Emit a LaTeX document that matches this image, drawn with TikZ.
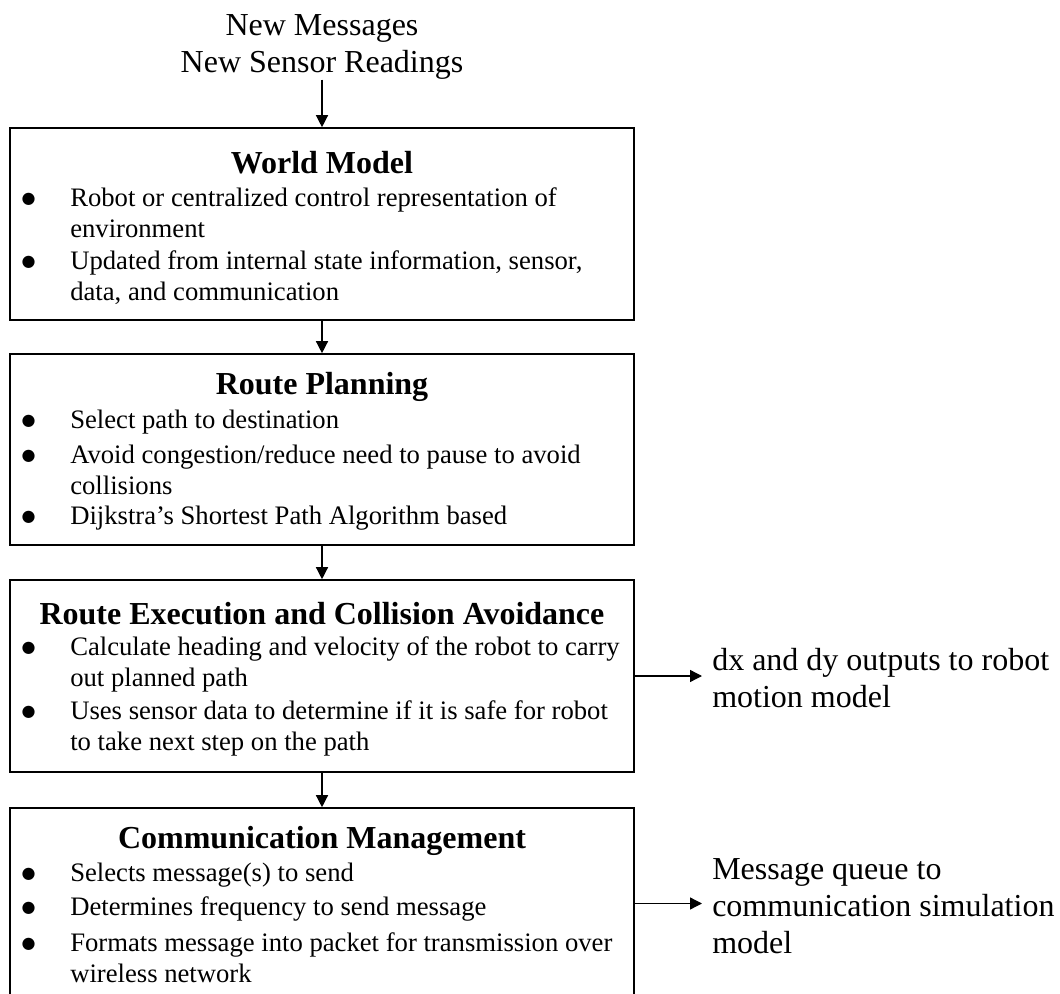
\documentclass[tikz,border=0pt]{standalone}
\usepackage{fontspec}
\setmainfont{Liberation Serif}
\newfontfamily\dotfont{DejaVu Sans}
\usepackage{tikz}
\usetikzlibrary{arrows.meta,positioning}
\newcommand\bul{\llap{\raisebox{2.2pt}{\dotfont\fontsize{12pt}{12pt}\selectfont ●}\hspace{26pt}}}
\tikzset{
  >={Triangle[length=9pt,width=9pt]},
  box/.style ={draw=black,line width=1.2pt,minimum width=468pt,inner sep=0pt},
  ttl/.style ={font=\fontsize{24pt}{28pt}\selectfont\bfseries,inner sep=0pt},
  itm/.style ={font=\fontsize{20pt}{23.25pt}\selectfont,align=left,
               anchor=west,inner sep=0pt},
  lbl/.style ={font=\fontsize{24pt}{27.75pt}\selectfont,align=left,
               inner xsep=7.5pt,inner ysep=0pt},
  flow/.style={->,draw=black,line width=1pt},
}
\begin{document}
\begin{tikzpicture}[x=0.75pt,y=-0.75pt]
\useasboundingbox (0,0) rectangle (1060,994);
\clip (0,0) rectangle (1060,994);
%---------------- inputs
\node[lbl,align=center,inner sep=0pt] (inp) at (322,47) {New Messages\\New Sensor Readings};
%---------------- WORLD MODEL
\node[box,minimum height=144pt] (b1) at (322,224) {};
\node[ttl] (t1) at (322,163) {World Model};
\node[itm] (i11) at (70,213) {\bul Robot or centralized control representation of\\environment};
\node[itm] (i12) at (70,277.5) {\bul Updated from internal state information, sensor,\\data, and communication};
%---------------- ROUTE PLANNING
\node[box,minimum height=143.25pt] (b2) at (322,449.5) {};
\node[ttl] (t2) at (322,387) {Route Planning};
\node[itm] (i21) at (70,422) {\bul Select path to destination};
\node[itm] (i22) at (70,470) {\bul Avoid congestion/reduce need to pause to avoid\\collisions};
\node[itm] (i23) at (70,518) {\bul Dijkstra’s Shortest Path Algorithm based};
%---------------- ROUTE EXECUTION
\node[box,minimum height=144pt] (b3) at (322,676) {};
\node[ttl] (t3) at (322,614) {Route Execution and Collision Avoidance};
\node[itm] (i31) at (70,664.5) {\bul Calculate heading and velocity of the robot to carry\\out planned path};
\node[itm] (i32) at (70,728.5) {\bul Uses sensor data to determine if it is safe for robot\\to take next step on the path};
%---------------- COMMUNICATION
\node[box,minimum height=143.25pt] (b4) at (322,903.5) {};
\node[ttl] (t4) at (322,841) {Communication Management};
\node[itm] (i41) at (70,875) {\bul Selects message(s) to send};
\node[itm] (i42) at (70,909) {\bul Determines frequency to send message};
\node[itm] (i43) at (70,957.5) {\bul Formats message into packet for transmission over\\wireless network};
%---------------- outputs
\node[lbl,anchor=west] (o1) at (702,678) {dx and dy outputs to robot\\motion model};
\node[lbl,anchor=west] (o2) at (702,906) {Message queue to\\communication simulation\\model};
%---------------- arrows
\draw[flow] (inp.south) -- (b1.north);
\draw[flow] (b1.south) -- (b2.north);
\draw[flow] (b2.south) -- (b3.north);
\draw[flow] (b3.south) -- (b4.north);
\draw[flow] (b3.east) -- (b3.east -| o1.west);
\draw[flow] (b4.east) -- (b4.east -| o2.west);
\end{tikzpicture}
\end{document}
